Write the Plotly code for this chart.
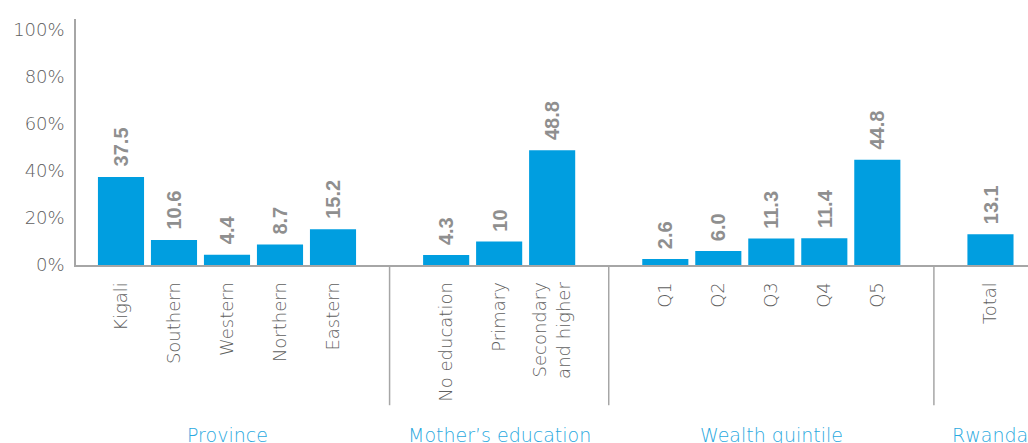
import plotly.graph_objects as go

# Share of children (%) by background characteristic
groups = ["Province", "Mother’s education", "Wealth quintile", "Rwanda"]
categories = [
    ["Kigali", "Southern", "Western", "Northern", "Eastern"],
    ["No education", "Primary", "Secondary<br>and higher"],
    ["Q1", "Q2", "Q3", "Q4", "Q5"],
    ["Total"],
]
values = [
    [37.5, 10.6, 4.4, 8.7, 15.2],
    [4.3, 10, 48.8],
    [2.6, 6.0, 11.3, 11.4, 44.8],
    [13.1],
]
value_text = [
    ["37.5", "10.6", "4.4", "8.7", "15.2"],
    ["4.3", "10", "48.8"],
    ["2.6", "6.0", "11.3", "11.4", "44.8"],
    ["13.1"],
]
y_ticks = [0, 20, 40, 60, 80, 100]

BAR = "#009ee0"
GROUP_BLUE = "#2aa9e0"
AXIS = "#a6a6a6"
LABEL = "#606060"
VALUE = "#8f8f8f"
LIGHT_FONT = "DejaVu Sans"
GROUP_GAP = 2.135  # spacing between the last bar of a group and the next group's first bar

# lay out bar positions group by group
xs, ys, texts, ticktext = [], [], [], []
group_centers, dividers = [], []
pos = 0.0
for gi, (cats, vals, txt) in enumerate(zip(categories, values, value_text)):
    start = pos
    for c, v, t in zip(cats, vals, txt):
        xs.append(pos)
        ys.append(v)
        texts.append(t)
        ticktext.append(c)
        pos += 1
    end = pos - 1
    group_centers.append((start + end) / 2)
    if gi < len(categories) - 1:
        dividers.append(end + GROUP_GAP / 2)
    pos = end + GROUP_GAP

fig = go.Figure(
    go.Bar(
        x=xs,
        y=ys,
        width=0.87,
        marker=dict(color=BAR, line=dict(width=0)),
        hoverinfo="skip",
    )
)

shapes = [
    dict(type="line", xref="x", yref="paper", x0=d, x1=d, y0=0, y1=-0.57,
         line=dict(color=AXIS, width=1.5))
    for d in dividers
]

# rotated value labels above each bar
annotations = [
    dict(x=x, y=y, xref="x", yref="y", text=t, showarrow=False, textangle=-90,
         xanchor="center", yanchor="bottom", yshift=8,
         font=dict(family="Liberation Sans", size=20, color=VALUE, weight="bold"))
    for x, y, t in zip(xs, ys, texts)
]

# group titles under the category labels
annotations += [
    dict(x=c, y=-0.69, xref="x", yref="paper", text=g, showarrow=False,
         xanchor="center", yanchor="middle",
         font=dict(family=LIGHT_FONT, size=19, color=GROUP_BLUE, weight=300))
    for c, g in zip(group_centers, groups)
]

fig.update_layout(
    width=1028,
    height=443,
    margin=dict(l=76, r=0, t=19, b=178),
    plot_bgcolor="white",
    paper_bgcolor="white",
    showlegend=False,
    shapes=shapes,
    annotations=annotations,
    font=dict(family=LIGHT_FONT, color=LABEL),
    xaxis=dict(
        range=[-0.849, 17.113],
        tickmode="array",
        tickvals=xs,
        ticktext=ticktext,
        tickangle=-90,
        showgrid=False,
        zeroline=False,
        showline=True,
        linecolor=AXIS,
        linewidth=2,
        ticks="",
        ticklabelstandoff=8,
        tickfont=dict(family=LIGHT_FONT, size=18, color=LABEL, weight=300),
    ),
    yaxis=dict(
        range=[0, 104.7],
        tickmode="array",
        tickvals=y_ticks,
        ticktext=[f"{t}%" for t in y_ticks],
        showgrid=False,
        zeroline=False,
        showline=True,
        linecolor=AXIS,
        linewidth=1.5,
        ticks="",
        ticklabelstandoff=6,
        tickfont=dict(family=LIGHT_FONT, size=18, color=LABEL, weight=300),
    ),
)

fig.write_html("out.html")
